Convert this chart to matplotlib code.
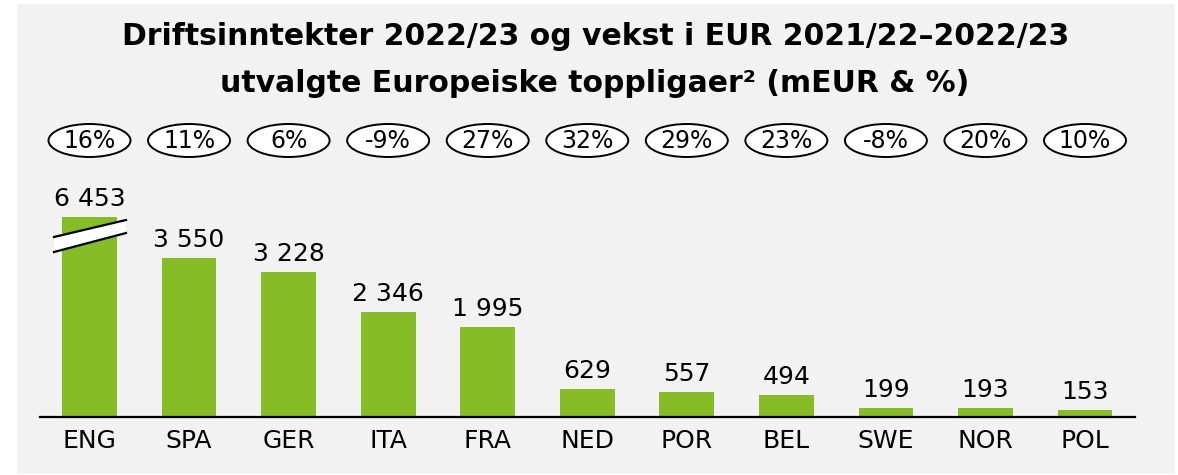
import matplotlib
matplotlib.use("Agg")
import matplotlib.pyplot as plt
from matplotlib.patches import Ellipse, Rectangle, Polygon
from matplotlib.lines import Line2D

# ---- data ----
categories = ["ENG", "SPA", "GER", "ITA", "FRA", "NED", "POR", "BEL", "SWE", "NOR", "POL"]
revenue = [6453, 3550, 3228, 2346, 1995, 629, 557, 494, 199, 193, 153]
growth = ["16%", "11%", "6%", "-9%", "27%", "32%", "29%", "23%", "-8%", "20%", "10%"]
title_line1 = "Driftsinntekter 2022/23 og vekst i EUR 2021/22\u20132022/23"
title_line2 = "utvalgte Europeiske toppligaer\u00b2 (mEUR & %)"
cap_value = 4466  # displayed height of the broken (ENG) bar

GREEN = "#86BC25"
BG = "#F2F2F2"

W, H = 1178, 475
fig = plt.figure(figsize=(W / 100, H / 100), dpi=100, facecolor="white")
fig.patches.append(Rectangle((17 / W, 1 - 474 / H), (1175 - 17) / W, (474 - 4) / H,
                             transform=fig.transFigure, facecolor=BG, edgecolor="none", zorder=-10))

# axes: baseline at y=416.7 px, width from x=40 to 1135 px
ax_left, ax_right = 40, 1135
base_y, top_y = 416.7, 116.7
ax = fig.add_axes([ax_left / W, 1 - base_y / H, (ax_right - ax_left) / W, (base_y - top_y) / H])
ax.set_facecolor("none")
px_per_unit = 0.04479
ymax = (base_y - top_y) / px_per_unit
ax.set_ylim(0, ymax)
step = 99.55
x0 = 89.5
ax.set_xlim((ax_left - x0) / step, (ax_right - x0) / step)

xs = list(range(len(categories)))
shown = [min(v, cap_value) for v in revenue]
ax.bar(xs, shown, width=0.55, color=GREEN, zorder=2)

for sp in ["top", "right", "left"]:
    ax.spines[sp].set_visible(False)
ax.spines["bottom"].set_linewidth(1.6)
ax.spines["bottom"].set_color("black")
ax.set_yticks([])
ax.set_xticks(xs)
ax.set_xticklabels(categories, fontsize=18)
ax.tick_params(axis="x", length=0, pad=9)

unit_per_px = 1 / px_per_unit
for x, v, s in zip(xs, revenue, shown):
    ax.text(x, s + 11 * unit_per_px, f"{v:,}".replace(",", " "), ha="center", va="baseline",
            fontsize=18, color="black")

# growth ellipses
ell_y = (base_y - 140.5) * unit_per_px
for x, g in zip(xs, growth):
    ax.add_patch(Ellipse((x, ell_y), 82 / step, 33 * unit_per_px, facecolor="white",
                         edgecolor="black", linewidth=1.4, clip_on=False, zorder=3))
    ax.text(x, ell_y, g, ha="center", va="center", fontsize=17, zorder=4)

# break marker on the capped bar
bi = 0
xl, xr = bi - 35.5 / step, bi + 36.5 / step
lt, lb = (base_y - 237) * unit_per_px, (base_y - 252) * unit_per_px
rt, rb = (base_y - 220) * unit_per_px, (base_y - 233) * unit_per_px
ax.add_patch(Polygon([(xl, lb), (xl, lt), (xr, rt), (xr, rb)], closed=True,
                     facecolor="white", edgecolor="none", zorder=5, clip_on=False))
ax.add_line(Line2D([xl, xr], [lt, rt], color="black", lw=1.6, zorder=6, clip_on=False))
ax.add_line(Line2D([xl, xr], [lb, rb], color="black", lw=1.6, zorder=6, clip_on=False))

fig.text(596 / W, 1 - 45 / H, title_line1, ha="center", va="baseline", fontsize=21.5,
         fontweight="bold")
fig.text(595 / W, 1 - 92 / H, title_line2, ha="center", va="baseline", fontsize=21.5,
         fontweight="bold")

fig.savefig("out.png", dpi=100, facecolor="white")
